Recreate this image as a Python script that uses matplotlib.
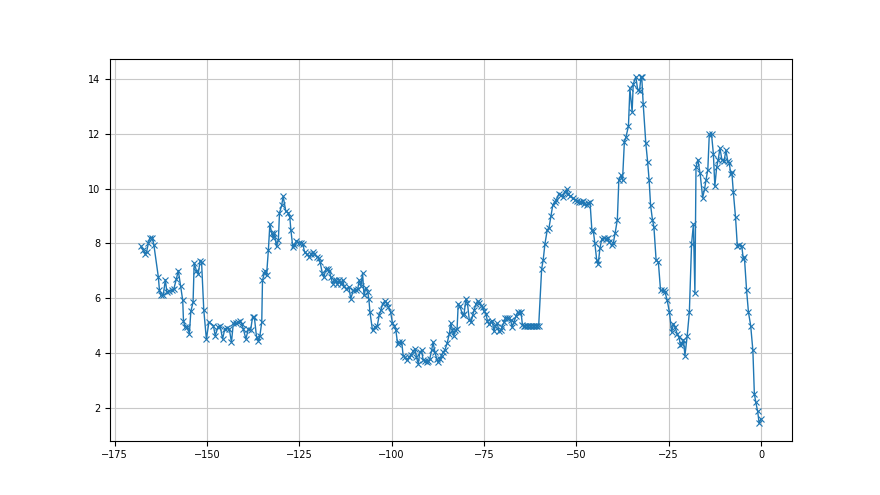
import matplotlib
matplotlib.use("Agg")
import matplotlib.pyplot as plt

x_vals = [
    -167.9, -167.3, -166.8, -166.4, -165.9, -165.5, -164.8, -164.4,
    -163.2, -162.9, -162.5, -161.9, -161.3, -160.9, -160.2, -159.6, -159.0,
    -158.3, -157.8, -157.2, -156.6, -156.4, -156.0, -155.4, -154.8, -154.4,
    -153.8, -153.5, -152.9, -152.4, -151.9, -151.5, -150.9, -150.2, -149.5,
    -148.3, -147.8, -147.0, -146.5, -145.8, -145.2, -144.5, -144.0, -143.4,
    -142.9, -142.2, -141.5, -141.1, -140.6, -140.2, -139.5, -138.8, -138.2,
    -137.7, -137.2, -136.6, -136.1, -135.7, -135.2, -135.0, -134.5, -134.2,
    -133.9, -133.4, -133.0, -132.5, -132.1, -131.8, -131.2, -130.7, -130.4,
    -129.8, -129.4, -128.7, -128.0, -127.6, -127.3, -126.8, -126.4, -125.8,
    -125.1, -124.6, -124.1, -123.6, -123.0, -122.4, -121.9, -121.4, -121.0,
    -120.3, -119.8, -119.4, -118.8, -118.4, -117.8, -117.3, -116.9, -116.5,
    -116.0, -115.6, -115.2, -114.7, -114.2, -113.8, -113.3, -112.9, -112.3,
    -111.6, -111.1, -110.4, -109.8, -109.2, -108.8, -108.3, -107.9, -107.5,
    -107.0, -106.5, -106.2, -105.9, -105.2, -104.6, -103.9, -103.4, -102.9,
    -102.5, -101.9, -101.4, -100.9, -100.3, -99.8, -99.3, -98.9, -98.4,
    -98.0, -97.3, -96.9, -96.4, -96.0, -95.3, -94.8, -94.2, -93.7, -93.3,
    -92.8, -92.4, -91.9, -91.5, -91.0, -90.5, -90.1, -89.7, -89.2, -88.8,
    -88.3, -87.8, -87.4, -87.0, -86.5, -86.1, -85.6, -85.0, -84.4, -84.0,
    -83.6, -83.2, -82.8, -82.3, -82.0, -81.5, -80.8, -80.4, -79.9, -79.5,
    -79.0, -78.5, -78.1, -77.7, -77.2, -76.7, -76.3, -75.8, -75.4, -74.9,
    -74.5, -74.1, -73.7, -73.2, -72.8, -72.3, -71.9, -71.4, -71.0, -70.5,
    -70.1, -69.6, -69.2, -68.7, -68.3, -67.8, -67.4, -66.9, -66.4, -65.9,
    -65.5, -65.0, -64.6, -64.2, -63.8, -63.4, -63.0, -62.6, -62.2, -61.8,
    -61.4, -61.0, -60.6, -60.2,
    -59.4, -59.0, -58.5, -57.9, -57.4, -56.9, -56.4, -55.9, -55.5, -54.8,
    -54.2, -53.6, -53.2, -52.6, -52.2, -51.7, -51.0, -50.5, -49.9, -49.3,
    -48.8, -48.3, -47.8, -47.2, -46.8, -46.3, -45.8, -45.4, -45.0, -44.5,
    -44.1, -43.6, -43.1, -42.5, -42.0, -41.5, -41.1, -40.4, -40.0, -39.5,
    -38.9, -38.5, -37.9, -37.5, -37.0, -36.6, -35.9, -35.5, -34.9, -34.6,
    -33.9, -33.4, -32.9, -32.5, -32.3, -31.9, -31.2, -30.7, -30.3, -29.9,
    -29.4, -29.0, -28.4, -27.8, -27.2, -26.4, -26.0, -25.4, -24.8, -24.2,
    -23.7, -23.3, -22.7, -22.2, -21.8, -21.4, -21.0, -20.6, -20.0, -19.4,
    -18.8, -18.3, -17.9, -17.6, -17.1, -16.5, -15.8, -15.3, -14.9, -14.4,
    -14.0, -13.4, -12.9, -12.5, -12.0, -11.6, -11.1, -10.6, -10.0, -9.5,
    -9.0, -8.6, -8.2, -7.9, -7.5, -6.9, -6.4, -5.9, -5.2, -4.8, -4.5,
    -3.9, -3.4, -2.8, -2.2, -1.8, -1.4, -0.9, -0.5, 0.0,
]

y_vals = [
    7.89, 7.77, 7.62, 7.68, 8.01, 8.21, 8.21, 7.93,
    6.77, 6.28, 6.10, 6.10, 6.67, 6.22, 6.26, 6.28, 6.34,
    6.71, 7.01, 6.46, 5.92, 5.18, 4.94, 4.96, 4.70, 5.52,
    5.85, 7.28, 7.01, 6.89, 7.35, 7.32, 5.57, 4.51, 5.12,
    5.00, 4.63, 4.96, 5.00, 4.51, 4.88, 4.90, 4.88, 4.39,
    5.08, 5.08, 5.12, 5.18, 5.06, 4.88, 4.51, 4.88, 4.84,
    5.30, 5.30, 4.57, 4.43, 4.63, 5.12, 6.65, 6.91, 7.01,
    6.83, 7.77, 8.70, 8.38, 8.21, 8.38, 7.89, 8.11, 9.11,
    9.39, 9.72, 9.18, 9.11, 8.95, 8.48, 7.87, 7.93, 8.09,
    8.01, 8.01, 7.99, 7.68, 7.60, 7.52, 7.60, 7.68, 7.60,
    7.52, 7.48, 7.32, 6.91, 6.77, 7.07, 7.07, 7.01, 6.77,
    6.53, 6.65, 6.67, 6.50, 6.67, 6.50, 6.67, 6.43, 6.34,
    6.40, 5.98, 6.28, 6.28, 6.34, 6.65, 6.46, 6.91, 6.10,
    6.38, 6.22, 5.98, 5.49, 4.82, 4.94, 5.00, 5.37, 5.57,
    5.79, 5.89, 5.82, 5.67, 5.49, 5.08, 5.00, 4.84, 4.33,
    4.39, 4.39, 3.90, 3.84, 3.74, 3.84, 3.94, 4.06, 4.15, 3.84,
    3.60, 4.02, 4.09, 3.74, 3.72, 3.66, 3.69, 3.78, 4.09, 4.39,
    4.02, 3.78, 3.66, 3.78, 3.90, 4.02, 4.11, 4.35, 4.70, 5.08,
    4.85, 4.62, 4.82, 4.88, 5.77, 5.70, 5.37, 5.43, 5.98, 5.82,
    5.21, 5.12, 5.37, 5.55, 5.79, 5.89, 5.82, 5.73, 5.67, 5.52,
    5.43, 5.18, 5.06, 5.12, 5.18, 4.79, 5.00, 5.08, 4.79, 4.82,
    4.96, 5.12, 5.28, 5.28, 5.28, 5.21, 4.94, 5.12, 5.33, 5.49,
    5.45, 5.49, 5.02, 5.00, 5.00, 5.00, 5.00, 5.00, 5.00, 5.00,
    5.00, 5.00, 5.00, 5.00,
    7.07, 7.38, 7.99, 8.48, 8.58, 8.99, 9.39, 9.51, 9.57, 9.79,
    9.76, 9.70, 9.88, 9.97, 9.82, 9.72, 9.67, 9.60, 9.55, 9.51,
    9.51, 9.55, 9.45, 9.39, 9.48, 9.51, 8.48, 8.45, 8.01, 7.40,
    7.23, 7.84, 8.17, 8.21, 8.17, 8.21, 8.05, 7.93, 8.01, 8.38,
    8.87, 10.31, 10.49, 10.31, 11.71, 11.87, 12.28, 13.66, 12.81, 13.82,
    14.09, 13.62, 13.57, 14.09, 14.09, 13.09, 11.67, 10.98, 10.31, 9.39,
    8.87, 8.60, 7.38, 7.32, 6.28, 6.28, 6.22, 5.92, 5.49, 4.76,
    5.06, 4.94, 4.70, 4.57, 4.27, 4.33, 4.48, 3.90, 4.60, 5.49,
    7.99, 8.70, 6.18, 10.79, 11.06, 10.57, 9.67, 9.97, 10.31, 10.70,
    11.99, 11.99, 11.28, 10.09, 10.79, 11.06, 11.47, 11.06, 11.01, 11.40,
    11.01, 10.94, 10.55, 10.61, 9.88, 8.96, 7.89, 7.96, 7.89, 7.44, 7.50,
    6.28, 5.49, 5.00, 4.09, 2.50, 2.19, 1.86, 1.43, 1.59,
]

fig, ax = plt.subplots(figsize=(8.8, 4.95), dpi=100)
ax.plot(x_vals, y_vals, marker='x', color='#1f77b4', linewidth=1.0,
        markersize=4, markeredgewidth=0.8)
ax.grid(True, color='#c8c8c8', linewidth=0.8)
ax.set_axisbelow(True)
ax.tick_params(labelsize=7, width=0.8, length=3.5)
for s in ax.spines.values():
    s.set_linewidth(0.8)
fig.savefig("out.png", dpi=100)
